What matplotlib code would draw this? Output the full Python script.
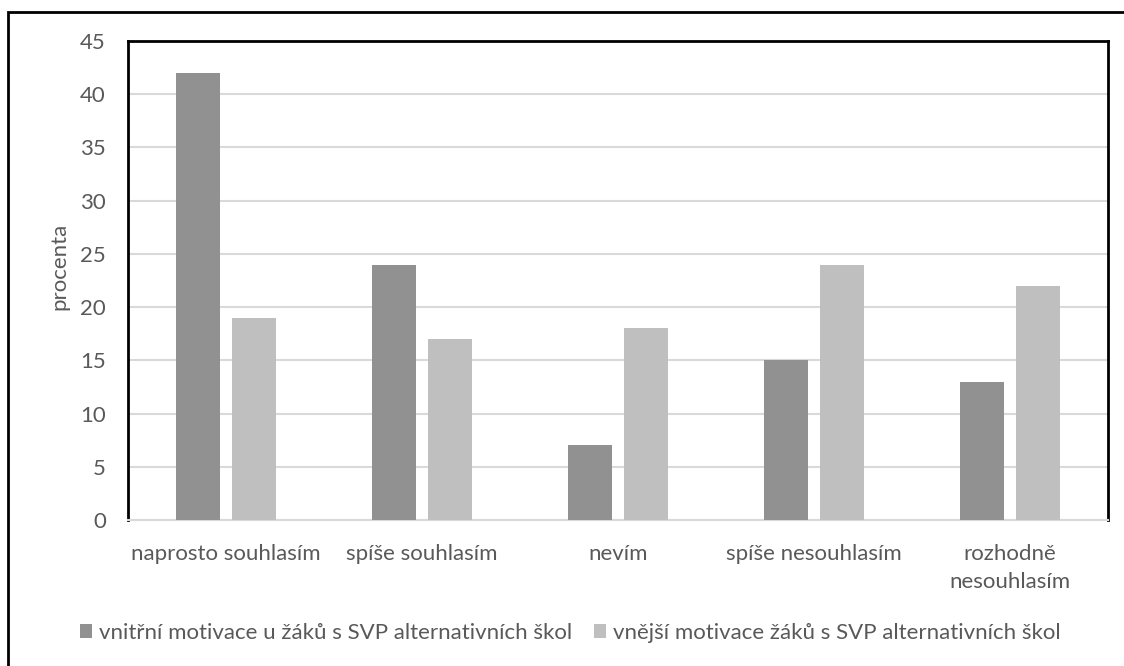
import matplotlib
matplotlib.use("Agg")
import matplotlib.pyplot as plt
import numpy as np
from matplotlib.patches import Rectangle

kategorie = ["naprosto souhlasím", "spíše souhlasím", "nevím",
             "spíše nesouhlasím", "rozhodně\nnesouhlasím"]
vnitrni = [42, 24, 7, 15, 13]
vnejsi = [19, 17, 18, 24, 22]
nazvy = ["vnitřní motivace u žáků s SVP alternativních škol",
         "vnější motivace žáků s SVP alternativních škol"]
yticks = [0, 5, 10, 15, 20, 25, 30, 35, 40, 45]

plt.rcParams['font.family'] = ['Lato', 'DejaVu Sans']
seda = '#595959'

fig = plt.figure(figsize=(11.24, 6.66), dpi=100)
ax = fig.add_axes([128/1124, 1-520/666, 980/1124, 479/666])

x = np.arange(len(kategorie))
w = 0.224
ax.bar(x - 0.143, vnitrni, width=w, color='#919191', label=nazvy[0], zorder=3)
ax.bar(x + 0.143, vnejsi, width=w, color='#bfbfbf', label=nazvy[1], zorder=3)

ax.set_xlim(-0.5, len(kategorie) - 0.5)
ax.set_ylim(0, 45)
ax.set_yticks(yticks)
ax.set_xticks(x)
ax.set_xticklabels(kategorie, fontsize=16, color=seda, linespacing=1.5)
ax.tick_params(axis='y', labelsize=16, labelcolor=seda, length=0, pad=16)
ax.tick_params(axis='x', length=0, pad=17)
ax.yaxis.grid(True, color='#d9d9d9', linewidth=1.5, zorder=0)
ax.set_axisbelow(True)

for s in ['top', 'left', 'right']:
    ax.spines[s].set_color('black')
    ax.spines[s].set_linewidth(2)
ax.spines['bottom'].set_color('#d9d9d9')
ax.spines['bottom'].set_linewidth(1.5)

ax.set_ylabel('procenta', fontsize=16, color=seda)
ax.yaxis.set_label_coords(-0.06, 0.53)

fig.legend(loc='center', bbox_to_anchor=(570/1124, 1-633/666), ncol=2,
           frameon=False, fontsize=16, labelcolor=seda, handlelength=0.55,
           handleheight=0.55, handletextpad=0.3, columnspacing=1.0)

# vnější rámeček
fig.patches.append(Rectangle((8/1124, -0.1), 1.2, 1 - 12/666 + 0.1,
                             transform=fig.transFigure, fill=False,
                             edgecolor='black', linewidth=2))

fig.savefig('out.png', dpi=100, facecolor='white')
